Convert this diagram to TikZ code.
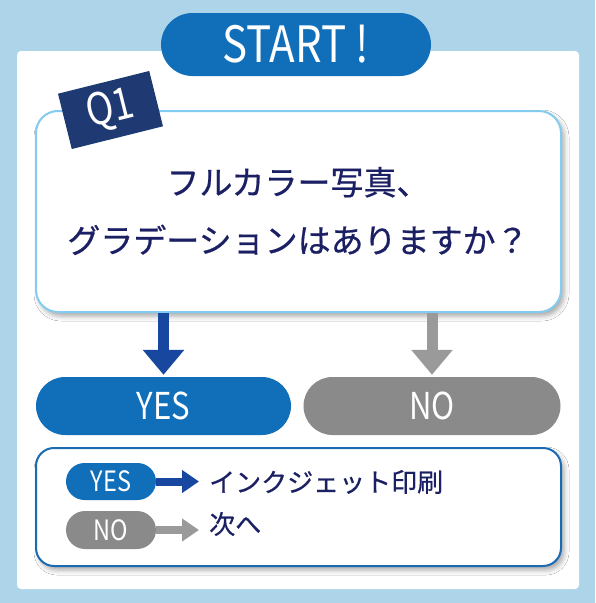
\documentclass[tikz,border=0pt]{standalone}
\usepackage{fontspec}
\setmainfont{Noto Sans CJK JP}
\newfontfamily\latinfont[FakeStretch=0.84]{Noto Sans CJK JP}
\newfontfamily\jpmed[FakeBold=0.6]{Noto Sans CJK JP}
\usetikzlibrary{arrows.meta,shadows.blur}
\definecolor{bgblue}{HTML}{AED4E9}
\definecolor{pillblue}{HTML}{116FBA}
\definecolor{arrowblue}{HTML}{17479E}
\definecolor{tagnavy}{HTML}{1F3A73}
\definecolor{textnavy}{HTML}{1B1F63}
\definecolor{qborder}{HTML}{84CBF0}
\definecolor{lborder}{HTML}{1B6BB3}
\definecolor{pillgray}{HTML}{8A8A8A}
\definecolor{arrowgray}{HTML}{9A9A9A}
\tikzset{
  fs/.style={font=\jpmed\fontsize{#1}{#1}\selectfont},
  lfs/.style={font=\latinfont\fontsize{#1}{#1}\selectfont},
  pill/.style={rectangle, inner sep=0pt, text=white, minimum height=#1, rounded corners=#1/2},
  boxshadow/.style={blur shadow={shadow xshift=3pt, shadow yshift=-4pt, shadow blur radius=5pt, shadow opacity=35}},
  bigarrow/.style={line width=11pt, -{Triangle[width=40pt,length=25pt]}, shorten >=2pt},
  smallarrow/.style={line width=8pt, -{Triangle[width=22pt,length=17pt]}, shorten >=10pt},
}
\begin{document}
\begin{tikzpicture}[x=1pt,y=-1pt]
\useasboundingbox (0,0) rectangle (595,603);
\fill[bgblue] (0,0) rectangle (595,603);
\node[fill=white, rounded corners=4pt, minimum width=562pt, minimum height=538pt, inner sep=0pt] (panel) at (298,320) {};
\node[pill=63pt, fill=pillblue, minimum width=270pt, lfs=50] (start) at (296,44.5) {START !};
\node[draw=qborder, line width=2pt, fill=white, rounded corners=22pt, minimum width=525pt, minimum height=201pt, inner sep=0pt, boxshadow] (q) at (298.5,211.5) {};
\node[fill=tagnavy, minimum width=94pt, minimum height=57pt, inner sep=0pt, rotate=14, text=white, lfs=44] (tag) at (110.5,110) {Q1};
\node[text=textnavy, align=center, inner sep=0pt, font=\jpmed\fontsize{33}{58}\selectfont] (qtext) at (298,211) {フルカラー写真、\\グラデーションはありますか？};
\node[pill=58pt, fill=pillblue, minimum width=255pt, lfs=37] (yes) at (163.5,406) {YES};
\node[pill=58pt, fill=pillgray, minimum width=257pt, lfs=37] (no) at (432,406) {NO};
\draw[bigarrow, arrowblue] (yes.north |- q.south) -- (yes.north);
\draw[bigarrow, arrowgray] (no.north |- q.south) -- (no.north);
\node[draw=lborder, line width=2pt, fill=white, rounded corners=18pt, minimum width=525pt, minimum height=118pt, inner sep=0pt, boxshadow] (legend) at (298.5,507) {};
\node[pill=37pt, fill=pillblue, minimum width=90pt, lfs=28] (lyes) at (111,481.5) {YES};
\node[pill=38pt, fill=pillgray, minimum width=90pt, lfs=28] (lno) at (111,530) {NO};
\node[anchor=west, inner sep=0pt, text=textnavy, fs=26] (lt1) at (209,482) {インクジェット印刷};
\node[anchor=west, inner sep=0pt, text=textnavy, fs=26] (lt2) at (209,524) {次へ};
\draw[smallarrow, arrowblue] (lyes.east) -- (lyes.east -| lt1.west);
\draw[smallarrow, arrowgray] (lno.east) -- (lno.east -| lt2.west);
\end{tikzpicture}
\end{document}
